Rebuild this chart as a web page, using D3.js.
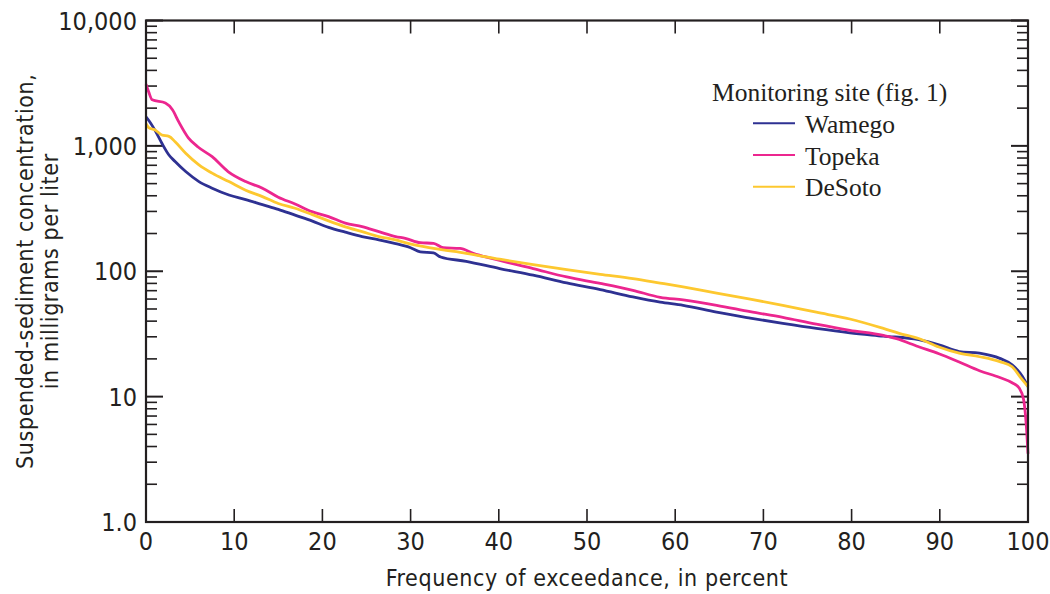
<!DOCTYPE html>
<html>
<head>
<meta charset="utf-8">
<script src="https://cdn.jsdelivr.net/npm/d3@7"></script>
<style>
body{margin:0;background:#fff;}
svg{display:block;}
.tick-label{font-family:"Liberation Sans Narrow","Arial Narrow","DejaVu Sans Condensed",sans-serif;font-size:25px;fill:#231f20;}
.axis-title{font-family:"Liberation Sans Narrow","Arial Narrow","DejaVu Sans Condensed",sans-serif;font-size:23px;fill:#231f20;letter-spacing:0.6px;}
.legend-text{font-family:"Liberation Serif","Times New Roman",serif;font-size:25.5px;fill:#231f20;}
</style>
</head>
<body>
<svg width="1050" height="594"></svg>
<script>
// frequency of exceedance (percent) and concentration (mg/L)
var wamegoPct=[0,0.3,1.1,1.8,2.6,3.3,4.5,6,7.5,9.4,11.3,13.2,15,16.9,18.8,20.7,22.6,24.5,26.4,28.3,30,31.1,32.6,33.4,36.3,40.1,43.9,47.7,51.5,55.2,58.3,60.9,64.7,68.5,72.2,76,79.8,83.6,87.6,89.9,92.2,94.5,96.8,98.2,99.1,99.6,100];
var wamegoVal=[1700,1600,1300,1050,846,750,624,519,460,406,373,340,312,280,252,224,205,189,178,166,154,143,140,130,120,105,93,80.7,71.4,62.4,56.7,53.5,47.1,42.3,38.4,35,32.3,30.4,28.5,25.9,22.9,22.2,20.2,17.9,15.4,13.6,12];

var topekaPct=[0,0.3,0.7,2.2,3.0,3.7,4.8,5.9,7.5,9.3,11.3,13.2,15,16.9,18.8,20.7,22.6,24.5,26.4,28.3,29.4,31.1,32.6,33.7,35.6,37.1,40.1,43.9,47.7,51.5,55.2,58.3,60.9,64.7,68.5,72.2,76,79.8,83.6,85.4,86.6,87.6,89.9,92.2,94.5,96.8,98.2,99,99.5,99.8,100];
var topekaVal=[3100,2700,2330,2200,1940,1560,1160,980,820,624,519,460,390,344,299,273,242,227,207,189,183,169,167,154,152,139,122,105,90,80,70.5,62,59,53.5,47.6,42.8,37.8,33.8,30.8,28.6,26.5,25,22,18.9,16.1,14.2,12.9,11.7,9.5,6,3.5];

var desotoPct=[0,0.3,1.1,1.8,2.6,3.3,4.5,6,7.5,9.4,11.3,13.2,15,16.9,18.8,20.7,22.6,24.5,26.4,28.3,29.4,32.6,36.3,40.1,43.9,47.7,51.5,55.2,58.3,60.9,64.7,68.5,72.2,76,79.8,83.6,85.4,87.6,89.9,92.2,94.5,96.8,98.2,99.1,100];
var desotoVal=[1500,1400,1330,1220,1190,1080,873,706,606,519,443,394,347,318,284,252,226,207,189,178,169,152,139,124.7,113,103,94.6,87.4,80.5,75,67,60,53.5,47.1,41.6,35,32,29.1,24.9,22.2,20.8,19,17.3,14.4,12];

var siteNames=["Wamego","Topeka","DeSoto"];
var siteColors=["#2e3192","#ec268f","#fdc82f"];
var xTicks=[0,10,20,30,40,50,60,70,80,90,100];
var yMajor=[1,10,100,1000,10000];
var yMajorLabels=["1.0","10","100","1,000","10,000"];

// note: "top" is taken by window.top, so plot edges get their own names
var plotL=146, plotR=1028, plotT=20.5, plotB=522;
var ink="#231f20";

var svg=d3.select("svg");
var x=d3.scaleLinear().domain([0,100]).range([plotL,plotR]);
var y=d3.scaleLog().domain([1,10000]).range([plotB,plotT]);

// minor ticks 2..9 in each decade
var yMinor=[];
for(var d=1; d<10000; d*=10){
    for(var k=2; k<10; k++){
        yMinor.push(d*k);
    }
}

var g=svg.append("g");

// left and right tick marks (inside)
g.selectAll(".minL").data(yMinor).enter().append("line")
    .attr("x1",plotL).attr("x2",plotL+11)
    .attr("y1",function(v){return y(v);}).attr("y2",function(v){return y(v);})
    .attr("stroke",ink).attr("stroke-width",1.6);
g.selectAll(".minR").data(yMinor).enter().append("line")
    .attr("x1",plotR).attr("x2",plotR-11)
    .attr("y1",function(v){return y(v);}).attr("y2",function(v){return y(v);})
    .attr("stroke",ink).attr("stroke-width",1.6);
g.selectAll(".majL").data(yMajor).enter().append("line")
    .attr("x1",plotL).attr("x2",plotL+17)
    .attr("y1",function(v){return y(v);}).attr("y2",function(v){return y(v);})
    .attr("stroke",ink).attr("stroke-width",2);
g.selectAll(".majR").data(yMajor).enter().append("line")
    .attr("x1",plotR).attr("x2",plotR-17)
    .attr("y1",function(v){return y(v);}).attr("y2",function(v){return y(v);})
    .attr("stroke",ink).attr("stroke-width",2);

// top and bottom tick marks (inside)
var innerX=xTicks.slice(1,xTicks.length-1);
g.selectAll(".tB").data(innerX).enter().append("line")
    .attr("x1",function(v){return x(v);}).attr("x2",function(v){return x(v);})
    .attr("y1",plotB).attr("y2",plotB-13)
    .attr("stroke",ink).attr("stroke-width",1.6);
g.selectAll(".tT").data(innerX).enter().append("line")
    .attr("x1",function(v){return x(v);}).attr("x2",function(v){return x(v);})
    .attr("y1",plotT).attr("y2",plotT+13)
    .attr("stroke",ink).attr("stroke-width",1.6);

// curves
var series=[
    {pct:wamegoPct,val:wamegoVal},
    {pct:topekaPct,val:topekaVal},
    {pct:desotoPct,val:desotoVal}
];
var line=d3.line()
    .x(function(p){return x(p[0]);})
    .y(function(p){return y(p[1]);})
    .curve(d3.curveMonotoneX);
for(var i=0; i<series.length; i++){
    var s=series[i];
    var pts=s.pct.map(function(p,j){return [p,s.val[j]];});
    svg.append("path")
        .attr("d",line(pts))
        .attr("fill","none")
        .attr("stroke",siteColors[i])
        .attr("stroke-width",2.8)
        .attr("stroke-linejoin","round");
}

// frame
svg.append("rect")
    .attr("x",plotL).attr("y",plotT)
    .attr("width",plotR-plotL).attr("height",plotB-plotT)
    .attr("fill","none").attr("stroke",ink).attr("stroke-width",2.2);

// tick labels
svg.selectAll(".yl").data(yMajor).enter().append("text")
    .attr("class","tick-label")
    .attr("x",137)
    .attr("y",function(v){return y(v);})
    .attr("dy","0.36em")
    .attr("text-anchor","end")
    .text(function(v,i){return yMajorLabels[i];});
svg.selectAll(".xl").data(xTicks).enter().append("text")
    .attr("class","tick-label")
    .attr("x",function(v){return x(v);})
    .attr("y",550)
    .attr("text-anchor","middle")
    .text(function(v){return v;});

// axis titles
svg.append("text")
    .attr("class","axis-title")
    .attr("x",(plotL+plotR)/2)
    .attr("y",586)
    .attr("text-anchor","middle")
    .text("Frequency of exceedance, in percent");
var yt=svg.append("text")
    .attr("class","axis-title")
    .attr("transform","translate(0,"+((plotT+plotB)/2)+") rotate(-90)")
    .attr("text-anchor","middle");
yt.append("tspan").attr("x",0).attr("y",33).text("Suspended-sediment concentration,");
yt.append("tspan").attr("x",0).attr("y",58).text("in milligrams per liter");

// legend
var lg=svg.append("g").attr("class","legend");
lg.append("text")
    .attr("class","legend-text")
    .attr("x",712).attr("y",101)
    .text("Monitoring site (fig. 1)");
for(var i=0; i<siteNames.length; i++){
    var ly=123.3+i*31.7;
    lg.append("line")
        .attr("x1",753).attr("x2",795)
        .attr("y1",ly).attr("y2",ly)
        .attr("stroke",siteColors[i]).attr("stroke-width",2);
    lg.append("text")
        .attr("class","legend-text")
        .attr("x",805).attr("y",ly+9.5)
        .text(siteNames[i]);
}
</script>
</body>
</html>
